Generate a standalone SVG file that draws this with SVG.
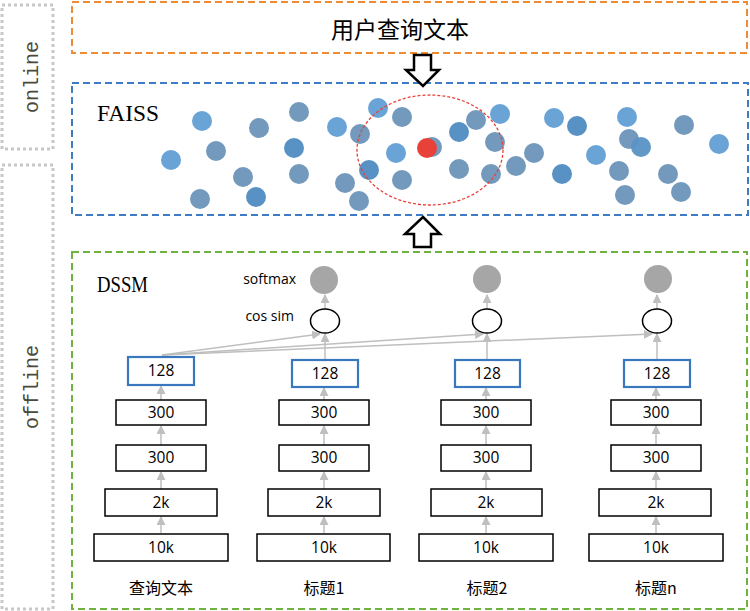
<svg xmlns="http://www.w3.org/2000/svg" width="750" height="611" viewBox="0 0 750 611">
<style>
.side{fill:none;stroke:#c8c8c8;stroke-width:3;stroke-dasharray:3 3}
.sidet{font-family:"Liberation Mono",monospace;font-size:20px;fill:#4a4a3a}
.dash{fill:none;stroke-width:2;stroke-dasharray:7 4}
.box{fill:#fff;stroke:#000;stroke-width:1.5}
.bbox{fill:#fff;stroke:#3a78bd;stroke-width:2.2}
.num{font-family:"Open Sans","Liberation Sans",Arial,sans-serif;font-size:15.5px;fill:#000;text-anchor:middle}
.lbl{font-family:"Open Sans","Liberation Sans",Arial,sans-serif;font-size:14px;fill:#000;text-anchor:end}
.cn{font-family:"Noto Sans CJK SC",sans-serif;font-size:16px;fill:#000;text-anchor:middle}
.ga{stroke:#bfbfbf;stroke-width:1.5;fill:none;marker-end:url(#ah)}
.L{fill:#6aa3d6}.G{fill:#7399bd}.D{fill:#5892c5}
.hollow{fill:#fff;stroke:#000;stroke-width:2.5;stroke-linejoin:miter}
</style>
<defs>
<marker id="ah" markerUnits="userSpaceOnUse" markerWidth="9" markerHeight="9" refX="8" refY="4.5" orient="auto">
<path d="M0,0 L9,4.5 L0,9 z" fill="#bfbfbf"/>
</marker>
</defs>

<g id="online-label">
<rect class="side" x="2" y="5" width="51" height="144"/>
<text class="sidet" transform="translate(38,77) rotate(-90)" text-anchor="middle">online</text>
</g>
<g id="offline-label">
<rect class="side" x="2" y="165" width="51" height="444"/>
<text class="sidet" transform="translate(38,387) rotate(-90)" text-anchor="middle">offline</text>
</g>

<g id="query-box">
<rect class="dash" stroke="#ef8a35" x="72" y="2" width="675" height="51"/>
<text x="400" y="38" font-family="'Noto Sans CJK SC',sans-serif" font-size="23" text-anchor="middle" fill="#000">用户查询文本</text>
</g>

<g id="faiss-box">
<rect class="dash" stroke="#3d7cc4" x="72" y="83" width="676" height="132"/>
<text x="97" y="121" font-family="'Liberation Serif',serif" font-size="23" textLength="62" lengthAdjust="spacingAndGlyphs" fill="#000">FAISS</text>
<g id="dots">
<circle class="L" cx="202" cy="121" r="10"/>
<circle class="G" cx="259" cy="128" r="10"/>
<circle class="G" cx="299" cy="112" r="10"/>
<circle class="L" cx="337" cy="127" r="10"/>
<circle class="L" cx="171" cy="160" r="10"/>
<circle class="G" cx="216" cy="151" r="10"/>
<circle class="D" cx="294" cy="148" r="10"/>
<circle class="G" cx="243" cy="177" r="10"/>
<circle class="G" cx="299" cy="174" r="10"/>
<circle class="G" cx="200" cy="199" r="10"/>
<circle class="D" cx="256" cy="197" r="10"/>
<circle class="G" cx="345" cy="183" r="10"/>
<circle class="G" cx="359" cy="201" r="10"/>
<circle class="L" cx="378" cy="108" r="10"/>
<circle class="G" cx="360" cy="134" r="10"/>
<circle class="G" cx="402" cy="117" r="10"/>
<circle class="L" cx="396" cy="153" r="10"/>
<circle class="D" cx="369" cy="170" r="10"/>
<circle class="G" cx="402" cy="180" r="10"/>
<circle class="G" cx="432" cy="147" r="10"/>
<circle class="D" cx="459" cy="132" r="10"/>
<circle class="G" cx="476" cy="120" r="10"/>
<circle class="L" cx="500" cy="114" r="10"/>
<circle class="G" cx="495" cy="142" r="10"/>
<circle class="G" cx="459" cy="169" r="10"/>
<circle class="G" cx="491" cy="174" r="10"/>
<circle class="G" cx="516" cy="166" r="10"/>
<circle class="G" cx="534" cy="153" r="10"/>
<circle class="L" cx="554" cy="118" r="10"/>
<circle class="D" cx="577" cy="126" r="10"/>
<circle class="D" cx="562" cy="174" r="10"/>
<circle class="L" cx="596" cy="155" r="10"/>
<circle class="L" cx="627" cy="117" r="10"/>
<circle class="G" cx="629" cy="139" r="10"/>
<circle class="D" cx="641" cy="147" r="10" opacity="0.95"/>
<circle class="G" cx="619" cy="171" r="10"/>
<circle class="G" cx="625" cy="195" r="10"/>
<circle class="G" cx="668" cy="174" r="10"/>
<circle class="G" cx="681" cy="192" r="10"/>
<circle class="G" cx="684" cy="125" r="10"/>
<circle class="L" cx="719" cy="144" r="10"/>
<circle cx="427" cy="148" r="10" fill="#e8413a"/>
</g>
<ellipse cx="430" cy="150" rx="73" ry="55" fill="none" stroke="#e8413a" stroke-width="1.3" stroke-dasharray="3 2"/>
</g>

<g id="arrow-down">
<path class="hollow" d="M414,55 L431,55 L431,70 L439,70 L423,86 L406,70 L414,70 Z"/>
</g>
<g id="arrow-up">
<path class="hollow" d="M423,217 L440,234 L431,234 L431,247 L414,247 L414,234 L405,234 Z"/>
</g>

<g id="dssm-box">
<rect class="dash" stroke="#6eb33f" x="72" y="252" width="675" height="357"/>
<text x="97" y="292" font-family="'Liberation Serif',serif" font-size="24" textLength="51" lengthAdjust="spacingAndGlyphs" fill="#000">DSSM</text>
<text class="lbl" x="296" y="284">softmax</text>
<text class="lbl" x="294" y="321">cos sim</text>
</g>

<g id="connectors">
<line class="ga" x1="161" y1="533" x2="161" y2="517"/>
<line class="ga" x1="161" y1="489" x2="161" y2="472"/>
<line class="ga" x1="161" y1="445" x2="161" y2="426"/>
<line class="ga" x1="161" y1="400" x2="161" y2="386"/>
<line class="ga" x1="324" y1="533" x2="324" y2="517"/>
<line class="ga" x1="324" y1="489" x2="324" y2="472"/>
<line class="ga" x1="324" y1="445" x2="324" y2="426"/>
<line class="ga" x1="324" y1="400" x2="324" y2="388"/>
<line class="ga" x1="486" y1="533" x2="486" y2="517"/>
<line class="ga" x1="486" y1="489" x2="486" y2="472"/>
<line class="ga" x1="486" y1="445" x2="486" y2="426"/>
<line class="ga" x1="486" y1="400" x2="486" y2="388"/>
<line class="ga" x1="656" y1="533" x2="656" y2="517"/>
<line class="ga" x1="656" y1="489" x2="656" y2="472"/>
<line class="ga" x1="656" y1="445" x2="656" y2="426"/>
<line class="ga" x1="656" y1="400" x2="656" y2="388"/>
<line class="ga" x1="325" y1="360" x2="325" y2="334"/>
<line class="ga" x1="487" y1="360" x2="487" y2="334"/>
<line class="ga" x1="657" y1="360" x2="657" y2="334"/>
<line class="ga" x1="325" y1="309" x2="325" y2="295"/>
<line class="ga" x1="487" y1="309" x2="487" y2="295"/>
<line class="ga" x1="657" y1="309" x2="657" y2="295"/>
<line class="ga" x1="162" y1="355" x2="320" y2="334"/>
<line class="ga" x1="162" y1="355" x2="483" y2="334"/>
<line class="ga" x1="162" y1="355" x2="652" y2="334"/>
</g>

<g id="col-query">
<rect class="box" x="94" y="534" width="134" height="27"/><text class="num" x="161" y="553">10k</text>
<rect class="box" x="105" y="489" width="112" height="27"/><text class="num" x="161" y="508">2k</text>
<rect class="box" x="116" y="445" width="90" height="26"/><text class="num" x="161" y="463">300</text>
<rect class="box" x="116" y="400" width="90" height="25"/><text class="num" x="161" y="418">300</text>
<rect class="bbox" x="128" y="357" width="66" height="28"/><text class="num" x="161" y="376">128</text>
<text class="cn" x="161" y="594">查询文本</text>
</g>
<g id="col-title1">
<rect class="box" x="257" y="534" width="133" height="27"/><text class="num" x="324" y="553">10k</text>
<rect class="box" x="268" y="489" width="112" height="27"/><text class="num" x="324" y="508">2k</text>
<rect class="box" x="279" y="445" width="90" height="26"/><text class="num" x="324" y="463">300</text>
<rect class="box" x="279" y="400" width="90" height="25"/><text class="num" x="324" y="418">300</text>
<rect class="bbox" x="292" y="360" width="66" height="27"/><text class="num" x="325" y="379">128</text>
<ellipse cx="325" cy="321" rx="14.5" ry="12" fill="#fff" stroke="#000" stroke-width="1.5"/>
<circle cx="324" cy="280" r="14" fill="#a6a6a6"/>
<text class="cn" x="324" y="594">标题1</text>
</g>
<g id="col-title2">
<rect class="box" x="419" y="534" width="134" height="27"/><text class="num" x="486" y="553">10k</text>
<rect class="box" x="431" y="489" width="111" height="27"/><text class="num" x="486" y="508">2k</text>
<rect class="box" x="441" y="445" width="90" height="26"/><text class="num" x="486" y="463">300</text>
<rect class="box" x="441" y="400" width="90" height="25"/><text class="num" x="486" y="418">300</text>
<rect class="bbox" x="455" y="360" width="65" height="27"/><text class="num" x="487.5" y="379">128</text>
<ellipse cx="487" cy="321" rx="14.5" ry="12" fill="#fff" stroke="#000" stroke-width="1.5"/>
<circle cx="487" cy="279" r="14" fill="#a6a6a6"/>
<text class="cn" x="487" y="594">标题2</text>
</g>
<g id="col-titlen">
<rect class="box" x="589" y="534" width="134" height="27"/><text class="num" x="656" y="553">10k</text>
<rect class="box" x="599" y="489" width="112" height="27"/><text class="num" x="656" y="508">2k</text>
<rect class="box" x="611" y="445" width="90" height="26"/><text class="num" x="656" y="463">300</text>
<rect class="box" x="611" y="400" width="90" height="25"/><text class="num" x="656" y="418">300</text>
<rect class="bbox" x="624" y="360" width="66" height="27"/><text class="num" x="657" y="379">128</text>
<ellipse cx="657" cy="321" rx="14.5" ry="12" fill="#fff" stroke="#000" stroke-width="1.5"/>
<circle cx="658" cy="279" r="14" fill="#a6a6a6"/>
<text class="cn" x="656" y="594">标题n</text>
</g>
</svg>
